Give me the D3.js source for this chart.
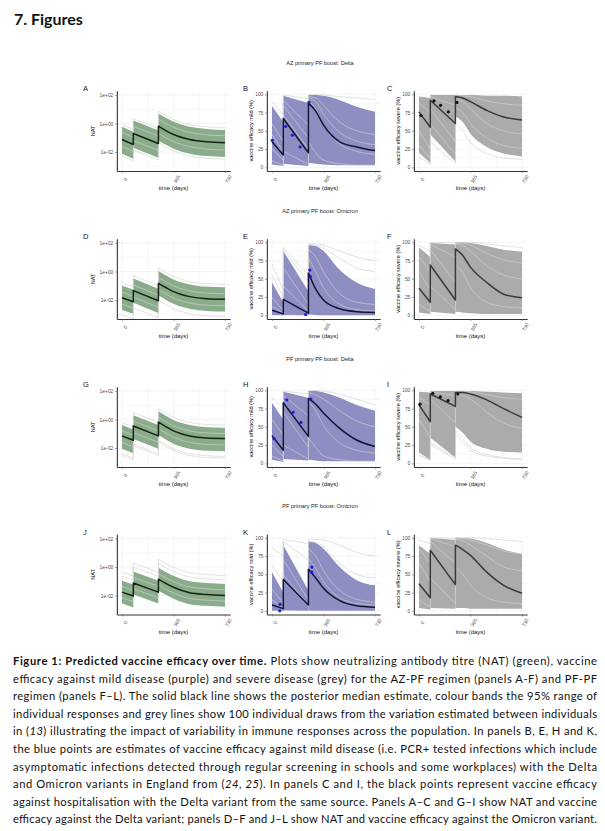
<!DOCTYPE html>
<html>
<head>
<meta charset="utf-8">
<script src="https://cdn.jsdelivr.net/npm/d3@7"></script>
<style>
  body { margin: 0; background: #fff; }
  svg { display: block; }
</style>
</head>
<body>
<svg id="fig" width="605" height="831"></svg>
<script>
// days at which every curve is read; the repeated days are the dose jumps
const DAYS = [0, 80, 80, 258, 258, 310, 365, 480, 600, 730];
const SEGMENTS = [[0, 2], [2, 4], [4, 10]];

const ROW_TITLES = ["AZ primary PF boost: Delta", "AZ primary PF boost: Omicron",
                    "PF primary PF boost: Delta", "PF primary PF boost: Omicron"];
const X_TICKS = [0, 365, 730];
const NAT_TICKS = [1e-2, 1, 1e2];
const EFF_TICKS = [0, 25, 50, 75, 100];

// ---- NAT (green) panels A, D, G, J ----
const medA = [0.076, 0.034, 0.20, 0.040, 0.65, 0.32, 0.17, 0.076, 0.052, 0.045];
const hiA = [0.60, 0.27, 1.6, 0.32, 5.1, 2.5, 1.35, 0.60, 0.42, 0.35];
const loA = [0.0076, 0.0034, 0.020, 0.0040, 0.065, 0.032, 0.017, 0.0076, 0.0052, 0.0045];
const drawsA = [
  [0.85, 0.38, 2.2, 0.45, 7.3, 3.6, 1.9, 0.85, 0.58, 0.50],
  [0.0053, 0.0024, 0.014, 0.0028, 0.046, 0.022, 0.012, 0.0053, 0.0036, 0.0032],
  [0.24, 0.11, 0.63, 0.13, 2.0, 1.0, 0.54, 0.24, 0.16, 0.14],
  [0.024, 0.011, 0.063, 0.013, 0.21, 0.10, 0.054, 0.024, 0.016, 0.014]
];

const medD = [0.0145, 0.0076, 0.046, 0.0089, 0.15, 0.076, 0.039, 0.0174, 0.0123, 0.0112];
const hiD = [0.10, 0.054, 0.33, 0.063, 1.07, 0.54, 0.28, 0.124, 0.087, 0.08];
const loD = [0.0020, 0.0011, 0.0065, 0.00125, 0.021, 0.0107, 0.0055, 0.00245, 0.00173, 0.00158];
const drawsD = [
  [0.16, 0.085, 0.52, 0.10, 1.68, 0.85, 0.44, 0.195, 0.138, 0.125],
  [0.00091, 0.00048, 0.0029, 0.00056, 0.0095, 0.0048, 0.0025, 0.0011, 0.00078, 0.00071],
  [0.036, 0.019, 0.115, 0.022, 0.375, 0.19, 0.098, 0.044, 0.031, 0.028],
  [0.0051, 0.0027, 0.016, 0.0032, 0.053, 0.027, 0.0138, 0.0062, 0.0044, 0.0040]
];

const medG = [0.071, 0.035, 0.35, 0.071, 0.66, 0.32, 0.16, 0.071, 0.051, 0.047];
const hiG = [0.41, 0.20, 2.0, 0.41, 3.8, 1.84, 0.92, 0.41, 0.29, 0.27];
const loG = [0.0089, 0.0044, 0.044, 0.0089, 0.083, 0.040, 0.020, 0.0089, 0.0064, 0.0059];
const drawsG = [
  [0.63, 0.31, 3.1, 0.63, 5.9, 2.85, 1.42, 0.63, 0.45, 0.42],
  [0.0040, 0.0020, 0.0196, 0.0040, 0.037, 0.018, 0.0090, 0.0040, 0.0029, 0.0026],
  [0.0030, 0.00146, 0.0146, 0.0030, 0.0275, 0.0133, 0.0067, 0.0030, 0.0021, 0.0020],
  [0.16, 0.078, 0.78, 0.16, 1.48, 0.72, 0.36, 0.16, 0.114, 0.105],
  [0.025, 0.0124, 0.124, 0.025, 0.234, 0.114, 0.057, 0.025, 0.018, 0.0167]
];

const medJ = [0.0174, 0.0093, 0.076, 0.0174, 0.141, 0.071, 0.038, 0.0158, 0.012, 0.0102];
const hiJ = [0.11, 0.059, 0.48, 0.11, 0.89, 0.45, 0.24, 0.10, 0.076, 0.064];
const loJ = [0.00275, 0.00147, 0.012, 0.00275, 0.0223, 0.0112, 0.006, 0.0025, 0.0019, 0.00161];
const drawsJ = [
  [0.435, 0.23, 1.9, 0.435, 3.5, 1.78, 0.95, 0.40, 0.30, 0.255],
  [0.22, 0.117, 0.96, 0.22, 1.78, 0.89, 0.48, 0.20, 0.151, 0.129],
  [0.0435, 0.023, 0.19, 0.0435, 0.35, 0.178, 0.095, 0.040, 0.030, 0.0255],
  [0.007, 0.0037, 0.030, 0.007, 0.056, 0.028, 0.015, 0.0063, 0.0048, 0.0041]
];

// ---- efficacy against mild disease (purple) panels B, E, H, K ----
const medB = [35, 17, 67, 20, 88, 77, 58, 35, 28, 23];
const hiB = [84, 62, 98, 88, 99, 99, 98, 92, 83, 76];
const loB = [4, 2, 5, 2, 6, 5, 4, 3, 3, 3];
const drawsB = [
  [90, 72, 99, 94, 100, 100, 99, 97, 95, 93],
  [60, 35, 92, 58, 97, 95, 85, 62, 50, 45],
  [25, 10, 72, 25, 92, 80, 58, 32, 22, 18],
  [9, 3, 22, 4, 35, 20, 10, 5, 3, 3],
  [45, 22, 85, 40, 95, 90, 73, 48, 36, 31]
];
const ptsB = [[2, 37], [97, 56], [144, 44], [199, 28], [262, 89]];

const medE = [7, 2, 22, 3, 58, 36, 21, 9, 5, 4];
const hiE = [45, 18, 88, 33, 96, 95, 88, 62, 45, 36];
const loE = [0.5, 0, 0.5, 0, 1, 0.5, 0, 0, 0, 0];
const drawsE = [
  [70, 35, 93, 55, 98, 98, 96, 88, 80, 75],
  [55, 25, 90, 45, 97, 96, 92, 78, 65, 60],
  [25, 6, 65, 15, 90, 80, 60, 30, 18, 15],
  [12, 3, 40, 6, 78, 60, 38, 15, 8, 6]
];
const ptsE = [[238, 1], [268, 62], [272, 53]];

const medH = [38, 18, 83, 37, 89, 81, 69, 48, 32, 23];
const hiH = [83, 60, 98, 90, 99, 99, 97, 90, 80, 72];
const loH = [5, 2, 6, 4, 5, 4, 3, 3, 3, 3];
const drawsH = [
  [90, 75, 99, 95, 100, 100, 99, 95, 88, 80],
  [10, 3, 25, 6, 35, 22, 10, 5, 3, 3],
  [60, 38, 93, 65, 97, 94, 88, 72, 58, 50],
  [25, 9, 70, 22, 85, 72, 52, 28, 18, 14]
];
const ptsH = [[14, 34], [105, 87], [150, 70], [205, 56], [275, 88]];

const medK = [8, 3, 43, 8, 57, 45, 31, 14, 7, 5];
const hiK = [53, 25, 90, 28, 95, 93, 85, 60, 42, 35];
const loK = [0, 0, 0.5, 0, 0.5, 0, 0, 0, 0, 0];
const drawsK = [
  [87, 75, 98, 92, 98, 98, 97, 90, 80, 75],
  [62, 40, 95, 70, 95, 94, 88, 65, 50, 45],
  [30, 10, 70, 15, 85, 75, 55, 28, 16, 12],
  [15, 4, 50, 8, 72, 58, 40, 18, 10, 8]
];
const ptsK = [[55, 0], [57, 9], [283, 60], [281, 53]];

// ---- efficacy against severe disease (grey) panels C, F, I, L ----
const medC = [76, 55, 92, 60, 97, 95, 90, 78, 69, 65];
const hiC = [97, 95, 99, 99, 99, 99, 99, 98, 98, 97];
const loC = [20, 6, 45, 8, 70, 62, 46, 28, 19, 15];
const drawsC = [
  [14, 4, 35, 5, 60, 50, 34, 19, 13, 11],
  [50, 25, 80, 35, 93, 90, 80, 60, 50, 46],
  [88, 75, 97, 85, 99, 98, 97, 91, 87, 85],
  [30, 12, 60, 18, 82, 75, 60, 40, 30, 26]
];
const ptsC = [[14, 71], [106, 91], [153, 85], [208, 76], [269, 89]];

const medF = [37, 18, 69, 21, 91, 82, 66, 45, 29, 24];
const hiF = [93, 80, 99, 97, 100, 100, 99, 95, 90, 87];
const loF = [4, 2, 5, 2, 5, 4, 3, 2, 2, 2];
const drawsF = [
  [96, 88, 100, 99, 100, 100, 100, 98, 95, 93],
  [60, 35, 90, 45, 98, 96, 88, 68, 55, 50],
  [15, 5, 40, 8, 70, 58, 38, 18, 12, 10],
  [80, 60, 97, 80, 99, 99, 96, 85, 76, 72]
];

const medI = [80, 57, 95, 78, 97, 97, 95, 87, 75, 63];
const hiI = [98, 97, 99, 99, 99, 99, 99, 98, 97, 96];
const loI = [15, 5, 35, 8, 50, 42, 30, 20, 16, 15];
const drawsI = [
  [10, 4, 25, 6, 40, 30, 18, 10, 7, 5],
  [12, 5, 28, 8, 45, 34, 22, 12, 8, 6],
  [60, 35, 88, 55, 95, 93, 88, 70, 55, 48],
  [90, 80, 98, 93, 99, 99, 98, 94, 90, 88]
];
const ptsI = [[7, 81], [98, 96], [151, 91], [206, 86], [275, 95]];

const medL = [37, 18, 83, 36, 90, 84, 76, 53, 35, 24];
const hiL = [90, 78, 100, 97, 100, 100, 99, 93, 84, 78];
const loL = [4, 2, 4, 3, 4, 4, 3, 3, 3, 3];
const drawsL = [
  [97, 92, 100, 99, 100, 100, 100, 99, 97, 95],
  [65, 40, 95, 65, 98, 96, 90, 75, 60, 55],
  [15, 5, 45, 10, 60, 50, 35, 18, 12, 10],
  [85, 65, 99, 88, 100, 99, 97, 90, 82, 78]
];

const PANELS = [
  { id: "A", row: 0, col: 0, kind: "nat", med: medA, lo: loA, hi: hiA, draws: drawsA },
  { id: "B", row: 0, col: 1, kind: "mild", med: medB, lo: loB, hi: hiB, draws: drawsB, pts: ptsB },
  { id: "C", row: 0, col: 2, kind: "severe", med: medC, lo: loC, hi: hiC, draws: drawsC, pts: ptsC },
  { id: "D", row: 1, col: 0, kind: "nat", med: medD, lo: loD, hi: hiD, draws: drawsD },
  { id: "E", row: 1, col: 1, kind: "mild", med: medE, lo: loE, hi: hiE, draws: drawsE, pts: ptsE },
  { id: "F", row: 1, col: 2, kind: "severe", med: medF, lo: loF, hi: hiF, draws: drawsF },
  { id: "G", row: 2, col: 0, kind: "nat", med: medG, lo: loG, hi: hiG, draws: drawsG },
  { id: "H", row: 2, col: 1, kind: "mild", med: medH, lo: loH, hi: hiH, draws: drawsH, pts: ptsH },
  { id: "I", row: 2, col: 2, kind: "severe", med: medI, lo: loI, hi: hiI, draws: drawsI, pts: ptsI },
  { id: "J", row: 3, col: 0, kind: "nat", med: medJ, lo: loJ, hi: hiJ, draws: drawsJ },
  { id: "K", row: 3, col: 1, kind: "mild", med: medK, lo: loK, hi: hiK, draws: drawsK, pts: ptsK },
  { id: "L", row: 3, col: 2, kind: "severe", med: medL, lo: loL, hi: hiL, draws: drawsL }
];

const CAPTION = [
  [["b", "Figure 1: Predicted vaccine efficacy over time."], ["", " Plots show neutralizing antibody titre (NAT) (green), vaccine"]],
  [["", "efficacy against mild disease (purple) and severe disease (grey) for the AZ-PF regimen (panels A-F) and PF-PF"]],
  [["", "regimen (panels F\u2013L). The solid black line shows the posterior median estimate, colour bands the 95% range of"]],
  [["", "individual responses and grey lines show 100 individual draws from the variation estimated between individuals"]],
  [["", "in ("], ["i", "13"], ["", ") illustrating the impact of variability in immune responses across the population. In panels B, E, H and K,"]],
  [["", "the blue points are estimates of vaccine efficacy against mild disease (i.e. PCR+ tested infections which include"]],
  [["", "asymptomatic infections detected through regular screening in schools and some workplaces) with the Delta"]],
  [["", "and Omicron variants in England from ("], ["i", "24, 25"], ["", "). In panels C and I, the black points represent vaccine efficacy"]],
  [["", "against hospitalisation with the Delta variant from the same source. Panels A\u2013C and G\u2013I show NAT and vaccine"]],
  [["", "efficacy against the Delta variant; panels D\u2013F and J\u2013L show NAT and vaccine efficacy against the Omicron variant."]]
];

// layout
const COL_ZERO = [122, 272, 419];      // x pixel of day 0 per column
const DAY_PX = 103 / 730;
const ROW_OFF = [0, 148, 296, 443.5];
const LETTER_X = [83, 243, 387];
const ROW_TITLE_Y = [65, 213, 361, 508];

const STYLE = {
  nat:    { band: "#8aac8a", med: "#142414", ylab: "NAT" },
  mild:   { band: "#8e8ec2", med: "#141436", ylab: "vaccine efficacy mild (%)" },
  severe: { band: "#ababab", med: "#3a3a3a", ylab: "vaccine efficacy severe (%)" }
};

const FONT = "'Liberation Sans', Arial, sans-serif";
const svg = d3.select("#fig");

svg.append("text")
  .attr("x", 14).attr("y", 25)
  .attr("font-family", "Lato, 'Open Sans', sans-serif")
  .attr("font-weight", "bold").attr("font-size", 16)
  .attr("fill", "#111")
  .text("7.  Figures");

ROW_TITLES.forEach((t, i) => {
  svg.append("text")
    .attr("x", 320).attr("y", ROW_TITLE_Y[i])
    .attr("text-anchor", "middle")
    .attr("font-family", FONT).attr("font-size", 5.6)
    .attr("fill", "#222")
    .text(t);
});

function natLabel(d) {
  const e = Math.round(Math.log10(d));
  return "1e" + (e < 0 ? "-" : "+") + String(Math.abs(e)).padStart(2, "0");
}

function drawPanel(p) {
  const st = STYLE[p.kind];
  const off = ROW_OFF[p.row];
  const zero = COL_ZERO[p.col];
  const x = d3.scaleLinear()
    .domain([-36.5, 766.5])
    .range([zero - 36.5 * DAY_PX, zero + 766.5 * DAY_PX]);
  const yRange = [171 + off, 90.7 + off];
  const y = p.kind === "nat"
    ? d3.scaleLog().domain([4.7e-4, 200]).range(yRange)
    : d3.scaleLinear().domain([-5, 105]).range(yRange);
  const [x0, x1] = x.range();

  const g = svg.append("g").attr("class", "panel-" + p.id);

  // grid
  const xMinor = [182.5, 547.5];
  const yMajor = p.kind === "nat" ? NAT_TICKS : EFF_TICKS;
  const yMinor = p.kind === "nat" ? [1e-3, 0.1, 10] : [12.5, 37.5, 62.5, 87.5];
  g.selectAll(".gx").data(X_TICKS.concat(xMinor)).enter().append("line")
    .attr("x1", d => x(d)).attr("x2", d => x(d))
    .attr("y1", yRange[0]).attr("y2", yRange[1])
    .attr("stroke", "#ececec").attr("stroke-width", d => X_TICKS.includes(d) ? 0.6 : 0.35);
  g.selectAll(".gy").data(yMajor.concat(yMinor)).enter().append("line")
    .attr("x1", x0).attr("x2", x1)
    .attr("y1", d => y(d)).attr("y2", d => y(d))
    .attr("stroke", "#ececec").attr("stroke-width", d => yMajor.includes(d) ? 0.6 : 0.35);

  const segPts = (vals, k0, k1) => d3.range(k0, k1).map(k => [DAYS[k], vals[k]]);
  const line = d3.line().x(d => x(d[0])).y(d => y(d[1])).curve(d3.curveMonotoneX);
  const curvePath = vals => SEGMENTS.map(([a, b], i) => {
    const s = line(segPts(vals, a, b));
    return i === 0 ? s : "L" + s.slice(1);
  }).join("");
  const area = d3.area().x(d => x(d[0])).y0(d => y(d[1])).y1(d => y(d[2])).curve(d3.curveMonotoneX);

  // 95% band, one ribbon per dosing interval
  SEGMENTS.forEach(([a, b]) => {
    g.append("path")
      .attr("d", area(d3.range(a, b).map(k => [DAYS[k], Math.max(p.lo[k], p.kind === "nat" ? 1e-4 : -1), p.hi[k]])))
      .attr("fill", st.band);
  });

  // individual draws
  g.selectAll(".draw").data(p.draws).enter().append("path")
    .attr("d", d => curvePath(d))
    .attr("fill", "none")
    .attr("stroke", "#d2d2d2").attr("stroke-opacity", 0.8)
    .attr("stroke-width", 0.8);

  // median
  g.append("path")
    .attr("d", curvePath(p.med))
    .attr("fill", "none").attr("stroke", st.med)
    .attr("stroke-width", 1.5).attr("stroke-linejoin", "round");

  if (p.pts) {
    g.selectAll(".pt").data(p.pts).enter().append("circle")
      .attr("cx", d => x(d[0])).attr("cy", d => y(d[1]))
      .attr("r", 1.6)
      .attr("fill", p.kind === "mild" ? "#1c1ce0" : "#111");
  }

  // axes
  const yAxis = p.kind === "nat"
    ? d3.axisLeft(y).tickValues(NAT_TICKS).tickFormat(natLabel)
    : d3.axisLeft(y).tickValues(EFF_TICKS).tickFormat(d3.format("d"));
  const ya = g.append("g").attr("transform", `translate(${x0},0)`)
    .call(yAxis.tickSize(2).tickSizeOuter(0).tickPadding(1.5));
  const xa = g.append("g").attr("transform", `translate(0,${yRange[0]})`)
    .call(d3.axisBottom(x).tickValues(X_TICKS).tickSize(2).tickSizeOuter(0));
  [ya, xa].forEach(a => {
    a.select(".domain").attr("stroke", "#333").attr("stroke-width", 1.1);
    a.selectAll(".tick line").attr("stroke", "#555").attr("stroke-width", 0.5);
    a.selectAll(".tick text").attr("font-family", FONT).attr("font-size", 4.9).attr("fill", "#4d4d4d");
  });
  xa.selectAll(".tick text")
    .attr("text-anchor", "middle")
    .attr("dy", 0)
    .attr("transform", "translate(0,6.5) rotate(-60)");

  g.append("text")
    .attr("x", (x0 + x1) / 2).attr("y", yRange[0] + 19)
    .attr("text-anchor", "middle")
    .attr("font-family", FONT).attr("font-size", 6)
    .attr("fill", "#111")
    .text("time (days)");

  const yt = p.kind === "nat" ? x0 - 24 : x0 - 16;
  g.append("text")
    .attr("transform", `translate(${yt},${(yRange[0] + yRange[1]) / 2}) rotate(-90)`)
    .attr("text-anchor", "middle").attr("dy", "0.35em")
    .attr("font-family", FONT).attr("font-size", 5.6)
    .attr("fill", "#111")
    .text(st.ylab);

  g.append("text")
    .attr("x", LETTER_X[p.col]).attr("y", 91 + off)
    .attr("font-family", FONT).attr("font-size", 7.5)
    .attr("fill", "#111")
    .text(p.id);
}

PANELS.forEach(drawPanel);

// caption, justified across the text column
const capLeft = 13, capWidth = 584, capTop = 665, capStep = 17.6;
CAPTION.forEach((parts, i) => {
  const t = svg.append("text")
    .attr("x", capLeft).attr("y", capTop + i * capStep)
    .attr("font-family", "Lato, 'Open Sans', sans-serif")
    .attr("font-size", 11.2).attr("fill", "#111");
  parts.forEach(([s, txt]) => {
    t.append("tspan")
      .attr("font-weight", s === "b" ? "bold" : null)
      .attr("font-style", s === "i" ? "italic" : null)
      .text(txt);
  });
  const natural = t.node().getComputedTextLength();
  t.attr("textLength", capWidth)
   .attr("lengthAdjust", natural > capWidth ? "spacingAndGlyphs" : "spacing");
});
</script>
</body>
</html>
